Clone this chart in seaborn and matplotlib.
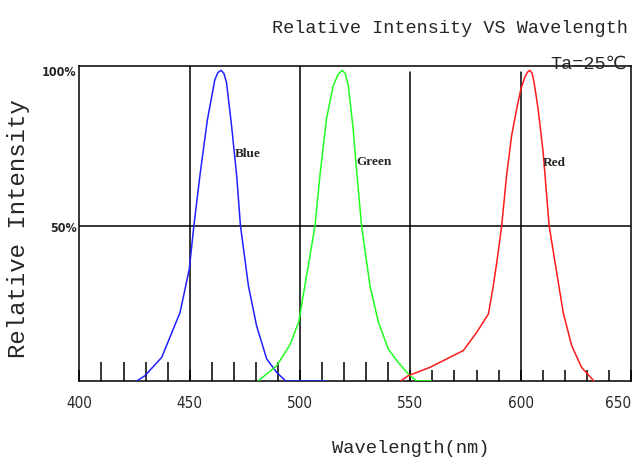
import matplotlib
matplotlib.use("Agg")
import matplotlib.pyplot as plt
import seaborn as sns

# spectrum (nm, relative %)
blue_nm = [426, 429.7, 437.3, 445.6, 449.8, 451.9, 454.6, 458, 461.4, 462.8, 464.2,
           465.5, 466.7, 469, 471.3, 473, 476.6, 480.3, 484.9, 489.4, 493.5, 511.6]
blue_int = [0, 1.7, 7.6, 22, 36, 50, 66, 84, 97, 99.3, 100,
            99, 96, 82, 66, 50, 30.7, 17.8, 7.1, 2.8, 0, 0]

green_nm = [481, 489.4, 495.4, 499.5, 502.2, 504.5, 506.8, 509, 512, 515, 517.3, 519.1,
            520.5, 521.9, 524.1, 525.6, 527.9, 531.7, 535.5, 540, 544.5, 549, 552.8, 559.6]
green_int = [0, 4.9, 11.6, 19.2, 30.7, 40.3, 50, 66, 84.4, 95, 98.7, 100,
             99, 95, 81, 68, 50, 30.7, 19, 10.3, 6, 2.3, 0, 0]

red_nm = [545.6, 549, 558.9, 574, 580.1, 585.4, 587.6, 589.4, 591.4, 593.6, 595.9, 598.2,
          600.1, 601.9, 603.2, 604.2, 605.2, 606.1, 607.9, 610.2, 612.9, 616.3, 619.3,
          623.1, 627.6, 633.2]
red_int = [0, 1.7, 4.4, 9.8, 15.7, 21.6, 30.7, 39.3, 50, 66, 79, 87.6,
           94, 97.8, 99.5, 100, 99, 96, 87.6, 73.6, 50, 35, 22,
           11.4, 4.4, 0]

series = [("Blue", blue_nm, blue_int, "#2020ff", 470.5, 73.4),
          ("Green", green_nm, green_int, "#20ff20", 525.6, 70.9),
          ("Red", red_nm, red_int, "#ff1a1a", 609.9, 70.4)]

x_labels = [400, 450, 500, 550, 600, 650]
short_ticks = [560, 570, 580, 590, 610, 620, 630, 640]
tall_ticks = [410, 420, 430, 440, 460, 470, 480, 490, 510, 520, 530, 540]
full_grid = [450, 500]
part_grid = [550, 600]
y_labels = [50, 100]

sns.set_style("white")
mono = ["Liberation Mono", "DejaVu Sans"]

fig = plt.figure(figsize=(6.32, 4.64), dpi=100)
ax = fig.add_axes([0.1256, 0.1767, 0.8728, 0.6783])

for name, xs, ys, col, tx, ty in series:
    sns.lineplot(x=xs, y=ys, color=col, lw=1.1, ax=ax, estimator=None, zorder=3)
    ax.text(tx, ty, name, fontsize=9.5, fontweight="bold", family="Liberation Serif",
            va="center", ha="left")

for g in full_grid:
    ax.axvline(g, color="black", lw=1.1, zorder=2)
for g in part_grid:
    ax.axvline(g, ymax=0.982, color="black", lw=1.1, zorder=2)
ax.axhline(50, color="black", lw=1.1, zorder=2)

ax.set_xlim(400, 650)
ax.set_ylim(0, 101.3)

ax.set_xticks(x_labels + short_ticks)
ax.set_xticklabels([str(v) for v in x_labels] + [""] * len(short_ticks))
ax.set_xticks(tall_ticks, minor=True)
ax.tick_params(axis="x", which="major", direction="in", length=8.1, width=1.1,
               pad=10, color="black", bottom=True)
ax.tick_params(axis="x", which="minor", direction="in", length=13.9, width=1.1,
               color="black", bottom=True)
xt = ax.get_xticklabels()
for lab in xt:
    lab.set_family("DejaVu Sans")
    lab.set_stretch("condensed")
    lab.set_fontsize(11)
xt[len(x_labels) - 1].set_ha("right")
xt[len(x_labels) - 1].set_x(652)

ax.set_yticks(y_labels)
ax.set_yticklabels([f"{v}%" for v in y_labels])
ax.tick_params(axis="y", length=0, pad=2)
for lab in ax.get_yticklabels():
    lab.set_family("DejaVu Sans")
    lab.set_stretch("condensed")
    lab.set_fontsize(9)
    lab.set_fontweight("bold")

for s in ax.spines.values():
    s.set_color("black")
    s.set_linewidth(1.1)

ax.set_xlabel("Wavelength(nm)", family=mono, fontsize=13.5)
ax.xaxis.set_label_coords(0.601, -0.21)
ax.xaxis.label.set_va("center")
ax.set_ylabel("Relative Intensity", family=mono, fontsize=17.3)
ax.yaxis.set_label_coords(-0.1095, 0.488)
ax.yaxis.label.set_va("center")

fig.text(0.994, 0.929, "Relative Intensity VS Wavelength", family=mono, fontsize=13.3,
         ha="right", va="baseline")
fig.text(0.992, 0.852, "Ta=25℃", family=mono, fontsize=13.3, ha="right", va="baseline")

fig.savefig("out.png", dpi=100)
